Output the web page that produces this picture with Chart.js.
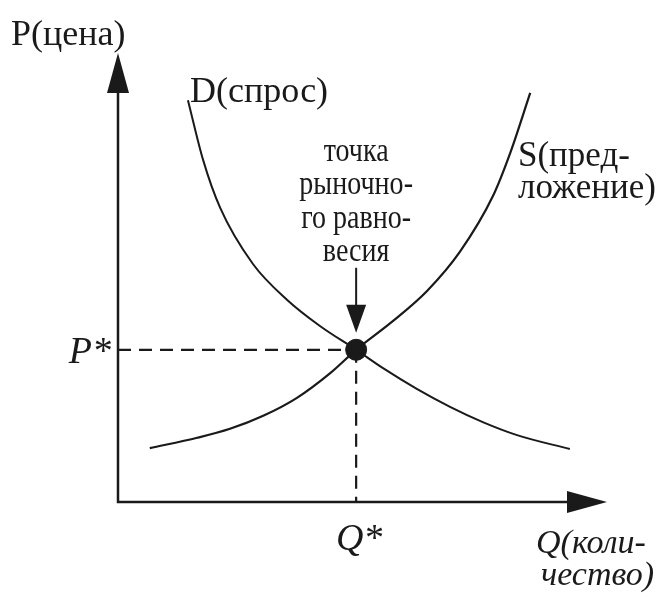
<!DOCTYPE html>
<html lang="ru">
<head>
<meta charset="utf-8">
<title>Рыночное равновесие</title>
<script src="https://cdn.jsdelivr.net/npm/chart.js@4/dist/chart.umd.min.js"></script>
<style>
  html, body { margin: 0; padding: 0; background: #fff; }
  canvas { display: block; }
</style>
</head>
<body>
<canvas id="market" width="658" height="597"></canvas>
<script>
// values (quantity 0..100, price 0..100)
const demandQ = [14.3, 17.4, 20.9, 27.6, 34.6, 41.3, 48.7, 54.2, 61.1, 67.9, 74.6, 81.6, 92.4];
const demandP = [89.5, 76.2, 65.5, 53.0, 45.0, 39.2, 33.9, 29.8, 25.2, 21.2, 17.8, 14.9, 11.8];
const supplyQ = [6.5, 16.2, 22.9, 29.7, 36.6, 43.4, 48.7, 56.0, 63.2, 69.9, 76.7, 80.2, 84.3];
const supplyP = [12.0, 14.3, 16.3, 19.2, 23.2, 28.7, 33.9, 40.1, 47.0, 55.7, 68.2, 77.7, 91.1];
const eqQ = 48.7;
const eqP = 33.9;

const axisLabels = { price: 'P(цена)', qty: ['Q(коли-', 'чество)'], pStar: 'P*', qStar: 'Q*' };
const curveLabels = { demand: ['D(спрос)'], supply: ['S(пред-', 'ложение)'] };
const noteLines = ['точка', 'рыночно-', 'го равно-', 'весия'];

(() => {
  const INK = '#1a1a1a';
  const SERIF = '"Liberation Serif", "Times New Roman", serif';
  const pts = (xs, ys) => xs.map((x, i) => ({ x, y: ys[i] }));

  function arrowHead(ctx, tipX, tipY, dirX, dirY, len, half) {
    // dir is a unit vector pointing to the tip
    const bx = tipX - dirX * len, by = tipY - dirY * len;
    ctx.beginPath();
    ctx.moveTo(tipX, tipY);
    ctx.lineTo(bx - dirY * half, by + dirX * half);
    ctx.lineTo(bx + dirY * half, by - dirX * half);
    ctx.closePath();
    ctx.fill();
  }

  function text(ctx, str, x, y, font, align, squeeze) {
    ctx.save();
    ctx.font = font;
    ctx.textAlign = align || 'left';
    ctx.textBaseline = 'alphabetic';
    ctx.translate(x, y);
    ctx.scale(squeeze || 1, 1);
    ctx.fillText(str, 0, 0);
    ctx.restore();
  }

  const decor = {
    id: 'decor',
    beforeDatasetsDraw(chart) {
      const { ctx, scales: { x, y } } = chart;
      const ox = x.getPixelForValue(0), oy = y.getPixelForValue(0);
      const tx = x.getPixelForValue(100), ty = y.getPixelForValue(100);
      ctx.save();
      ctx.strokeStyle = INK;
      ctx.fillStyle = INK;
      ctx.lineWidth = 2.5;
      ctx.beginPath();
      ctx.moveTo(ox, ty + 20);
      ctx.lineTo(ox, oy);
      ctx.lineTo(tx - 20, oy);
      ctx.stroke();
      arrowHead(ctx, ox, ty, 0, -1, 40, 11);
      arrowHead(ctx, tx, oy, 1, 0, 40, 11);
      ctx.restore();
    },
    afterDatasetsDraw(chart) {
      const { ctx, scales: { x, y } } = chart;
      const ox = x.getPixelForValue(0);
      const qx = x.getPixelForValue(eqQ), py = y.getPixelForValue(eqP);
      ctx.save();
      ctx.fillStyle = INK;
      ctx.strokeStyle = INK;

      text(ctx, axisLabels.price, 11, 45, `36px ${SERIF}`);
      text(ctx, curveLabels.demand[0], 190, 102, `36px ${SERIF}`);
      curveLabels.supply.forEach((s, i) => text(ctx, s, 518, 166 + i * 32, `35px ${SERIF}`));

      text(ctx, axisLabels.pStar, ox - 7, py + 13, `italic 38px ${SERIF}`, 'right');
      text(ctx, axisLabels.qStar, qx + 3, 550, `italic 38px ${SERIF}`, 'center');
      axisLabels.qty.forEach((s, i) => text(ctx, s, 536 + i * 5, 553 + i * 32, `italic 34px ${SERIF}`));

      // note over the equilibrium point with its arrow
      noteLines.forEach((s, i) => text(ctx, s, qx, 161 + i * 33.3, `33px ${SERIF}`, 'center', 0.85));
      const tip = py - 17;
      ctx.lineWidth = 2;
      ctx.beginPath();
      ctx.moveTo(qx, tip - 65);
      ctx.lineTo(qx, tip - 26);
      ctx.stroke();
      arrowHead(ctx, qx, tip, 0, 1, 28, 10);
      ctx.restore();
    }
  };

  new Chart(document.getElementById('market').getContext('2d'), {
    type: 'scatter',
    data: {
      datasets: [
        {
          label: 'D', data: pts(demandQ, demandP), showLine: true,
          borderColor: INK, borderWidth: 2, pointRadius: 0, cubicInterpolationMode: 'monotone'
        },
        {
          label: 'S', data: pts(supplyQ, supplyP), showLine: true,
          borderColor: INK, borderWidth: 2.2, pointRadius: 0, cubicInterpolationMode: 'monotone'
        },
        {
          label: 'P*', data: [{ x: 0, y: eqP }, { x: eqQ, y: eqP }], showLine: true,
          borderColor: INK, borderWidth: 2.2, borderDash: [13, 8], pointRadius: 0
        },
        {
          label: 'Q*', data: [{ x: eqQ, y: eqP }, { x: eqQ, y: 0 }], showLine: true,
          borderColor: INK, borderWidth: 2.2, borderDash: [13, 8], pointRadius: 0
        },
        {
          label: 'E', data: [{ x: eqQ, y: eqP }],
          backgroundColor: INK, borderColor: INK, pointRadius: 10.5
        }
      ]
    },
    options: {
      responsive: false,
      animation: false,
      layout: { padding: { left: 118, right: 51, top: 53, bottom: 95 } },
      plugins: { legend: { display: false }, tooltip: { enabled: false } },
      scales: {
        x: { type: 'linear', min: 0, max: 100, display: false },
        y: { type: 'linear', min: 0, max: 100, display: false }
      }
    },
    plugins: [decor]
  });
})();
</script>
</body>
</html>
